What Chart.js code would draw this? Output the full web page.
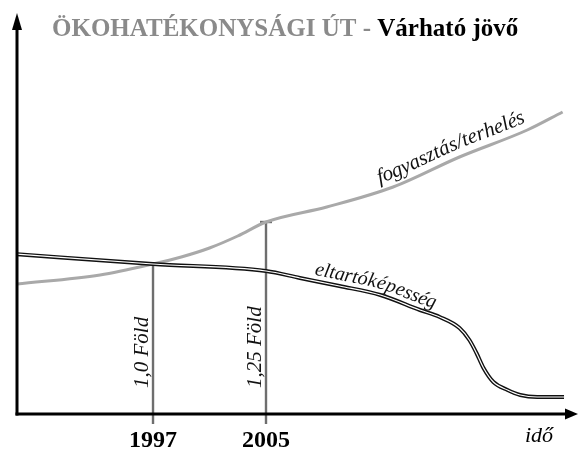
<!DOCTYPE html>
<html><head><meta charset="utf-8">
<script src="https://cdn.jsdelivr.net/npm/chart.js@4"></script>
<style>html,body{margin:0;padding:0;background:#fff}#wrap{width:579px;height:449px;position:relative}</style>
</head><body><div id="wrap"><canvas id="c"></canvas></div>
<script>
const titleGray = 'ÖKOHATÉKONYSÁGI ÚT - ';
const titleBlack = 'Várható jövő';
const xAxisTitle = 'idő';
const consumptionLabel = 'fogyasztás/terhelés';
const capacityLabel = 'eltartóképesség';
const tickYears = [1997, 2005];
const markerYears = [1997, 2005];
const markerValues = [150, 192];
const markerLabels = ['1,0 Föld', '1,25 Föld'];
const consumptionYears = [1987.37, 1993.25, 1997, 1999, 2001, 2003, 2005, 2009.3, 2014.0, 2018.7, 2023.5, 2026.0];
const consumptionValues = [130, 139, 150, 157, 166, 178, 192, 207, 227, 257, 284, 302];
const capacityYears = [1987.2, 1997, 2005, 2007.4, 2010.2, 2013.1, 2015.9, 2017.3, 2018.7, 2019.4, 2019.9, 2020.4, 2021.1, 2022.1, 2023.0, 2024.2, 2026.1];
const capacityValues = [160, 150, 143, 136, 128, 119, 104, 97, 86, 74, 61, 46, 32, 24, 19, 17, 17];

const serif = '"Liberation Serif", "DejaVu Serif", serif';

function curvePoly(meta){
  const pts = meta.data, poly = [];
  for (let i = 0; i < pts.length - 1; i++){
    const p0 = pts[i], p1 = pts[i+1];
    const c1x = p0.cp2x ?? p0.x, c1y = p0.cp2y ?? p0.y, c2x = p1.cp1x ?? p1.x, c2y = p1.cp1y ?? p1.y;
    for (let k = 0; k < 24; k++){
      const t = k/24, u = 1-t;
      poly.push({x: u*u*u*p0.x + 3*u*u*t*c1x + 3*u*t*t*c2x + t*t*t*p1.x,
                 y: u*u*u*p0.y + 3*u*u*t*c1y + 3*u*t*t*c2y + t*t*t*p1.y});
    }
  }
  const l = pts[pts.length-1]; poly.push({x:l.x, y:l.y});
  const cum = [0];
  for (let i = 1; i < poly.length; i++) cum.push(cum[i-1] + Math.hypot(poly[i].x-poly[i-1].x, poly[i].y-poly[i-1].y));
  return {poly, cum};
}
function pointAt(path, s){
  const {poly, cum} = path;
  let i = 1;
  while (i < cum.length - 1 && cum[i] < s) i++;
  const a = poly[i-1], b = poly[i];
  const seg = cum[i] - cum[i-1] || 1, t = (s - cum[i-1]) / seg;
  return {x: a.x + (b.x-a.x)*t, y: a.y + (b.y-a.y)*t, ang: Math.atan2(b.y-a.y, b.x-a.x)};
}
function textOnCurve(ctx, path, text, startX, offset){
  let i = 0; while (i < path.poly.length - 1 && path.poly[i].x < startX) i++;
  let s = path.cum[i];
  ctx.textAlign = 'center'; ctx.textBaseline = 'alphabetic';
  for (const ch of text){
    const w = ctx.measureText(ch).width;
    const p = pointAt(path, s + w/2);
    ctx.save(); ctx.translate(p.x, p.y); ctx.rotate(p.ang); ctx.fillText(ch, 0, -offset); ctx.restore();
    s += w;
  }
}

const decor = {
  id: 'decor',
  beforeDatasetsDraw(chart){
    const {ctx, scales:{x, y}, chartArea} = chart;
    ctx.save();
    ctx.strokeStyle = '#6e6e6e'; ctx.lineWidth = 2.4; ctx.lineCap = 'butt';
    markerYears.forEach((yr, i) => {
      const px = x.getPixelForValue(yr), py = y.getPixelForValue(markerValues[i]);
      ctx.beginPath(); ctx.moveTo(px, py); ctx.lineTo(px, chartArea.bottom + 10); ctx.stroke();
      ctx.beginPath(); ctx.moveTo(px - 6, py); ctx.lineTo(px + 6, py); ctx.stroke();
    });
    ctx.fillStyle = '#111';
    ctx.font = 'italic 21px ' + serif;
    ctx.textAlign = 'left'; ctx.textBaseline = 'alphabetic';
    markerYears.forEach((yr, i) => {
      const px = x.getPixelForValue(yr);
      ctx.save(); ctx.translate(px - 5, chartArea.bottom - 26); ctx.rotate(-Math.PI/2);
      ctx.fillText(markerLabels[i], 0, 0); ctx.restore();
    });
    ctx.restore();
  },
  afterDraw(chart){
    const {ctx, chartArea} = chart;
    const L = chartArea.left, B = chartArea.bottom, T = chartArea.top, R = chartArea.right;
    ctx.save();
    ctx.strokeStyle = '#000'; ctx.fillStyle = '#000'; ctx.lineWidth = 3; ctx.lineCap = 'butt';
    ctx.beginPath(); ctx.moveTo(L, B + 1.5); ctx.lineTo(L, T + 10); ctx.stroke();
    ctx.beginPath(); ctx.moveTo(L - 1.5, B); ctx.lineTo(R - 10, B); ctx.stroke();
    ctx.beginPath(); ctx.moveTo(L, T - 2); ctx.lineTo(L - 5, T + 15); ctx.lineTo(L + 5, T + 15); ctx.closePath(); ctx.fill();
    ctx.beginPath(); ctx.moveTo(R, B); ctx.lineTo(R - 13, B - 5.5); ctx.lineTo(R - 13, B + 5.5); ctx.closePath(); ctx.fill();

    ctx.font = 'italic 22px ' + serif; ctx.textAlign = 'left'; ctx.textBaseline = 'alphabetic';
    ctx.fillText(xAxisTitle, 525, 442);

    ctx.font = 'bold 25px ' + serif;
    ctx.fillStyle = '#8a8a8a';
    ctx.fillText(titleGray, 52, 36);
    const w = ctx.measureText(titleGray).width;
    ctx.fillStyle = '#000';
    ctx.fillText(titleBlack, 52 + w, 36);

    ctx.fillStyle = '#111';
    ctx.font = 'italic 21px ' + serif;
    textOnCurve(ctx, curvePoly(chart.getDatasetMeta(2)), consumptionLabel, 381, 8);
    ctx.font = 'italic 20px ' + serif;
    textOnCurve(ctx, curvePoly(chart.getDatasetMeta(1)), capacityLabel, 313, 6);
    ctx.restore();
  }
};

const capData = capacityYears.map((x, i) => ({x, y: capacityValues[i]}));
const conData = consumptionYears.map((x, i) => ({x, y: consumptionValues[i]}));

new Chart(document.getElementById('c'), {
  type: 'line',
  data: { datasets: [
    {label: capacityLabel + ' (inner)', data: capData, borderColor: '#ffffff', borderWidth: 1.2},
    {label: capacityLabel, data: capData, borderColor: '#111111', borderWidth: 4},
    {label: consumptionLabel, data: conData, borderColor: '#a9a9a9', borderWidth: 3}
  ]},
  options: {
    responsive: true, maintainAspectRatio: false, animation: false, devicePixelRatio: 1,
    layout: {padding: {left: 17, right: 1, top: 15, bottom: 0}},
    plugins: {legend: {display: false}, tooltip: {enabled: false}, title: {display: false}},
    elements: {point: {radius: 0}, line: {cubicInterpolationMode: 'monotone', borderCapStyle: 'butt', fill: false}},
    scales: {
      x: {type: 'linear', min: 1987.37, max: 2027.09,
          grid: {display: false, drawTicks: false}, border: {display: false},
          afterBuildTicks: s => { s.ticks = tickYears.map(v => ({value: v})); },
          afterFit: s => { s.height = 35; },
          ticks: {font: {family: '"Liberation Serif"', size: 24, weight: 'bold'}, color: '#000', padding: 12,
                  maxRotation: 0, autoSkip: false, callback: v => String(v)}},
      y: {display: false, min: 0, max: 399}
    }
  },
  plugins: [decor]
});
</script></body></html>
